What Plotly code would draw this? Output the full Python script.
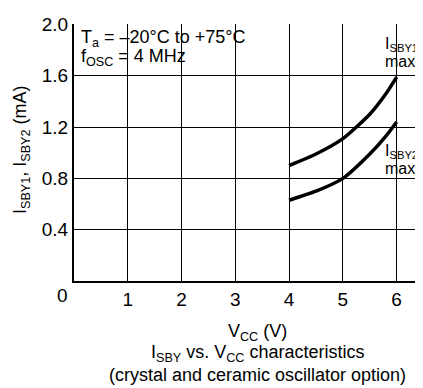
import plotly.graph_objects as go

# Standby current curves
vcc = [4.0, 4.5, 5.0, 5.5, 5.8, 6.0]
isby1_max = [0.90, 0.99, 1.11, 1.30, 1.46, 1.59]
isby2_max = [0.63, 0.70, 0.80, 0.99, 1.13, 1.24]

x_ticks = [1, 2, 3, 4, 5, 6]
y_ticks = [0.4, 0.8, 1.2, 1.6, 2.0]
y_labels = ["0.4", "0.8", "1.2", "1.6", "2.0"]

FONT = "Liberation Sans, Arial, Helvetica, sans-serif"

# page has an 8px body margin, so the figure is shifted by that much
OFF = 8
W, H = 423 - OFF, 388 - OFF
PL, PT, PB = 74, 24, 281          # plot area edges in page pixels
PR = 423

def px(xp):
    return (xp - PL) / (PR - PL)

def py(yp):
    return (PB - yp) / (PB - PT)

fig = go.Figure()

for ys in (isby1_max, isby2_max):
    fig.add_trace(go.Scatter(
        x=vcc, y=ys,
        mode="lines",
        line=dict(color="black", width=3.5, shape="spline", smoothing=0.6),
        showlegend=False,
        hoverinfo="skip",
    ))

fig.update_xaxes(
    range=[0, 6.49],
    tickvals=x_ticks,
    ticktext=[str(v) for v in x_ticks],
    showgrid=True, gridcolor="black", gridwidth=1.4,
    showline=True, linecolor="black", linewidth=2,
    zeroline=False, ticks="",
    tickfont=dict(size=19, color="black", family=FONT),
)
fig.update_yaxes(
    range=[0, 2.004],
    tickvals=y_ticks,
    ticktext=y_labels,
    showgrid=True, gridcolor="black", gridwidth=1.4,
    showline=True, linecolor="black", linewidth=2,
    zeroline=False, ticks="",
    tickfont=dict(size=19, color="black", family=FONT),
)

notes = [
    ("T<sub>a</sub> = \u201320\u00b0C to +75\u00b0C", 0.1, 1.89, 18),
    ("f<sub>OSC</sub> = 4 MHz", 0.1, 1.74, 18),
    ("I<sub>SBY1</sub>", 5.74, 1.845, 16),
    ("max.", 5.74, 1.715, 16),
    ("I<sub>SBY2</sub>", 5.74, 1.01, 16),
    ("max", 5.74, 0.875, 16),
]
for text, x, y, sz in notes:
    fig.add_annotation(text=text, x=x, y=y, xref="x", yref="y",
                       xanchor="left", yanchor="middle", showarrow=False,
                       font=dict(size=sz, color="black", family=FONT))

fig.add_annotation(text="0", x=px(62), y=py(295), xref="paper", yref="paper",
                   xanchor="center", yanchor="middle",
                   showarrow=False, font=dict(size=19, color="black", family=FONT))

for text, ypx in [("V<sub>CC</sub> (V)", 332),
                  ("I<sub>SBY</sub> vs. V<sub>CC</sub> characteristics", 354),
                  ("(crystal and ceramic oscillator option)", 375)]:
    fig.add_annotation(text=text, x=px(258), y=py(ypx), xref="paper", yref="paper",
                       xanchor="center", yanchor="middle", showarrow=False,
                       font=dict(size=18, color="black", family=FONT))

fig.add_annotation(text="I<sub>SBY1</sub>, I<sub>SBY2</sub> (mA)",
                   x=px(21), y=py(150), xref="paper", yref="paper", textangle=-90,
                   xanchor="center", yanchor="middle", showarrow=False,
                   font=dict(size=18, color="black", family=FONT))

fig.update_layout(
    width=W, height=H,
    margin=dict(l=PL - OFF, r=0, t=PT - OFF, b=388 - PB),
    paper_bgcolor="white", plot_bgcolor="white",
    font=dict(family=FONT, color="black"),
)

fig.write_html("out.html")
